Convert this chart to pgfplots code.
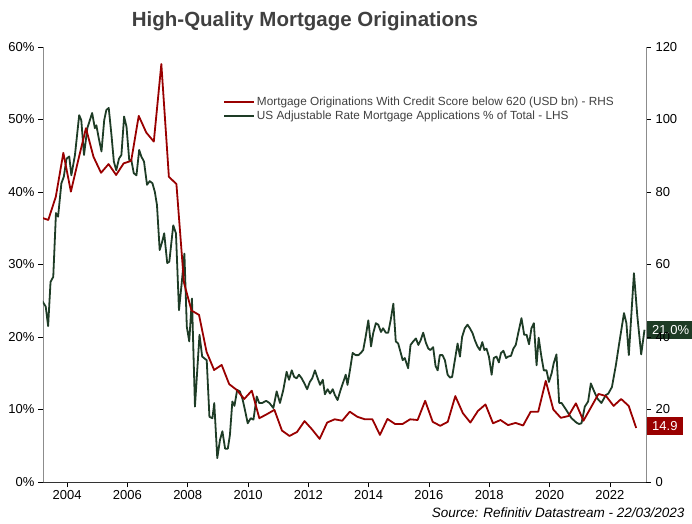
\documentclass[border=0pt]{standalone}
\usepackage{fontspec}
\setmainfont{Liberation Sans}
\usepackage{pgfplots}
\pgfplotsset{compat=1.18}

\definecolor{mred}{RGB}{153,0,0}
\definecolor{mgreen}{RGB}{30,60,38}
\definecolor{txtgray}{RGB}{64,64,64}
\definecolor{spine}{RGB}{140,140,140}

\pgfplotsset{
  base/.style={
    scale only axis, width=603pt, height=435pt,
    xmin=2003.2, xmax=2023.2,
    tick align=outside, major tick length=5pt,
    tick style={color=black, line width=0.6pt},
    axis line style={-, line width=0.9pt},
    tick label style={font=\fontsize{13}{15}\selectfont, text=black},
    /pgf/number format/assume math mode=true,
    /pgf/number format/1000 sep={},
    clip mode=individual,
  },
}

\begin{document}
\begin{tikzpicture}
% LHS: ARM applications share (monthly)
\begin{axis}[base,
    axis y line*=left, axis x line*=bottom,
    x axis line style={black!80},
    y axis line style={spine},
    ymin=0, ymax=60, ytick={0,10,...,60},
    yticklabel={\pgfmathprintnumber{\tick}\%},
    xtick={2004,2006,...,2022},
]
\addplot[mgreen, line width=1.8pt, line join=round] coordinates {
(2003.12,25.2) (2003.20,24.8) (2003.29,24.2) (2003.37,21.5) (2003.45,27.6) (2003.54,28.3)
(2003.63,37.1) (2003.70,36.6) (2003.81,41.2) (2003.89,42.1) (2003.98,44.6) (2004.07,44.9)
(2004.14,42.3) (2004.26,45.1) (2004.40,50.6) (2004.47,49.9) (2004.56,45.1) (2004.67,48.8)
(2004.83,50.9) (2004.92,48.8) (2004.97,49.2) (2005.05,47.4) (2005.14,45.6) (2005.23,49.9)
(2005.30,51.3) (2005.38,51.6) (2005.47,47.9) (2005.55,44.2) (2005.63,43.0) (2005.72,44.6)
(2005.80,45.1) (2005.89,50.4) (2005.97,49.0) (2006.06,44.4) (2006.13,44.4) (2006.21,42.6)
(2006.30,42.3) (2006.39,45.8) (2006.46,44.9) (2006.55,44.2) (2006.65,41.0) (2006.74,41.5)
(2006.83,41.2) (2006.91,40.0) (2006.98,38.2) (2007.07,32.0) (2007.15,33.1) (2007.22,34.3)
(2007.32,30.2) (2007.39,30.4) (2007.52,35.4) (2007.61,34.3) (2007.71,23.7) (2007.80,27.4)
(2007.89,31.5) (2007.97,21.4) (2008.05,19.4) (2008.14,25.3) (2008.24,10.4) (2008.39,20.3)
(2008.48,17.3) (2008.63,16.8) (2008.72,9.0) (2008.82,8.8) (2008.88,10.9) (2008.98,3.3)
(2009.07,5.8) (2009.15,7.0) (2009.24,4.6) (2009.33,4.6) (2009.40,6.5) (2009.48,11.1)
(2009.55,10.5) (2009.64,12.7) (2009.73,12.5) (2009.82,11.4) (2009.90,9.9) (2009.99,8.1)
(2010.09,8.8) (2010.18,8.6) (2010.29,11.8) (2010.37,10.9) (2010.47,10.9) (2010.60,11.2)
(2010.71,10.9) (2010.84,10.2) (2010.95,12.5) (2011.06,10.9) (2011.17,12.7) (2011.28,15.2)
(2011.36,14.1) (2011.45,15.4) (2011.53,14.5) (2011.61,14.3) (2011.69,14.8) (2011.78,14.3)
(2011.87,13.6) (2011.96,12.8) (2012.05,13.8) (2012.13,14.3) (2012.22,15.4) (2012.31,14.3)
(2012.39,13.4) (2012.48,14.1) (2012.55,12.1) (2012.64,12.8) (2012.72,12.2) (2012.81,12.8)
(2012.88,12.0) (2012.97,11.3) (2013.07,12.7) (2013.16,13.8) (2013.24,14.8) (2013.30,13.4)
(2013.38,15.4) (2013.47,17.8) (2013.57,17.5) (2013.66,17.5) (2013.74,17.8) (2013.82,18.2)
(2013.90,20.0) (2013.99,22.3) (2014.08,18.7) (2014.15,20.5) (2014.24,21.9) (2014.32,21.7)
(2014.41,20.7) (2014.48,21.2) (2014.57,20.6) (2014.65,20.6) (2014.73,22.3) (2014.82,24.6)
(2014.90,19.4) (2014.98,19.1) (2015.04,18.2) (2015.13,16.8) (2015.20,17.1) (2015.31,15.7)
(2015.39,18.9) (2015.48,19.4) (2015.57,19.8) (2015.65,18.9) (2015.73,19.6) (2015.81,20.6)
(2015.90,19.2) (2015.98,18.4) (2016.05,18.2) (2016.14,18.6) (2016.22,16.0) (2016.29,15.4)
(2016.36,17.5) (2016.45,17.5) (2016.53,16.8) (2016.62,14.8) (2016.70,14.4) (2016.77,14.5)
(2016.86,16.8) (2016.95,19.1) (2017.03,17.3) (2017.10,20.0) (2017.19,21.2) (2017.28,21.7)
(2017.36,21.2) (2017.45,20.5) (2017.52,19.6) (2017.61,18.7) (2017.69,18.2) (2017.77,19.3)
(2017.84,18.2) (2017.91,18.4) (2017.99,17.3) (2018.08,14.8) (2018.15,17.1) (2018.24,17.3)
(2018.32,16.5) (2018.39,17.8) (2018.47,18.1) (2018.56,17.1) (2018.63,17.3) (2018.72,17.4)
(2018.80,18.4) (2018.88,18.9) (2018.96,20.5) (2019.07,22.6) (2019.16,20.3) (2019.24,20.3)
(2019.32,19.0) (2019.40,21.2) (2019.48,21.9) (2019.57,16.1) (2019.64,19.9) (2019.73,17.3)
(2019.81,15.4) (2019.90,15.4) (2019.98,13.8) (2020.07,15.0) (2020.14,16.4) (2020.23,17.6)
(2020.32,10.9) (2020.40,10.9) (2020.48,10.4) (2020.56,9.9) (2020.65,9.3) (2020.73,8.8)
(2020.89,8.2) (2020.98,8.0) (2021.06,8.1) (2021.17,10.4) (2021.28,11.1) (2021.37,13.6)
(2021.48,12.5) (2021.59,11.5) (2021.72,10.9) (2021.87,12.0) (2021.95,12.2) (2022.07,13.1)
(2022.20,16.1) (2022.31,19.1) (2022.47,23.3) (2022.55,21.9) (2022.63,17.5) (2022.80,28.8)
(2022.91,23.0) (2023.04,17.6) (2023.15,21.0)
};
% title, source and last-value tag
\node[font=\fontsize{20.5}{24}\selectfont\bfseries, text=txtgray]
  at (rel axis cs:0.4345,1.06) {High-Quality Mortgage Originations};
\node[font=\fontsize{13.5}{16}\selectfont\itshape, text=black, anchor=east]
  at (rel axis cs:1.0697,-0.071) {Source: Refinitiv Datastream - 22/03/2023};
\node[fill=mgreen, text=white, anchor=west, font=\fontsize{13}{15}\selectfont,
  inner xsep=5pt, inner ysep=4pt, text height=9.5pt, text depth=0pt, xshift=1pt]
  at (axis cs:2023.2,21.0) {21.0\%};
\end{axis}

% RHS: originations with score below 620 (quarterly)
\begin{axis}[base,
    axis y line*=right, axis x line=none,
    y axis line style={spine},
    ymin=0, ymax=120, ytick={0,20,...,120},
    yticklabel style={anchor=west, xshift=1pt},
    legend style={at={(rel axis cs:0.297,0.893)}, anchor=north west,
      draw=none, fill=none, font=\fontsize{11.8}{14}\selectfont,
      row sep=0pt, inner sep=1pt},
    legend image post style={xscale=1.75},
    legend cell align=left,
]
\addplot[mred, line width=1.8pt, line join=round] coordinates {
(2003.125,73.0) (2003.375,72.3) (2003.625,78.7) (2003.875,90.8)
(2004.125,80.1) (2004.375,89.0) (2004.625,97.6) (2004.875,89.7)
(2005.125,85.3) (2005.375,87.7) (2005.625,84.7) (2005.875,87.9)
(2006.125,88.6) (2006.375,101.0) (2006.625,96.4) (2006.875,93.9)
(2007.125,115.3) (2007.375,84.2) (2007.625,82.2) (2007.875,55.0)
(2008.125,47.3) (2008.375,46.1) (2008.625,35.9) (2008.875,30.9)
(2009.125,32.3) (2009.375,27.0) (2009.625,25.4) (2009.875,22.9)
(2010.125,25.2) (2010.375,17.6) (2010.625,18.7) (2010.875,19.9)
(2011.125,14.2) (2011.375,12.7) (2011.625,13.8) (2011.875,16.8)
(2012.125,14.5) (2012.375,11.9) (2012.625,16.4) (2012.875,17.3)
(2013.125,16.9) (2013.375,19.4) (2013.625,18.0) (2013.875,17.3)
(2014.125,17.3) (2014.375,13.0) (2014.625,17.4) (2014.875,16.0)
(2015.125,16.0) (2015.375,17.3) (2015.625,17.1) (2015.875,22.4)
(2016.125,16.6) (2016.375,15.5) (2016.625,16.6) (2016.875,23.7)
(2017.125,19.0) (2017.375,16.4) (2017.625,19.6) (2017.875,21.4)
(2018.125,16.2) (2018.375,17.1) (2018.625,15.7) (2018.875,16.3)
(2019.125,15.6) (2019.375,19.4) (2019.625,19.4) (2019.875,27.9)
(2020.125,20.0) (2020.375,17.7) (2020.625,18.2) (2020.875,21.7)
(2021.125,16.9) (2021.375,20.6) (2021.625,24.3) (2021.875,23.7)
(2022.125,21.0) (2022.375,22.9) (2022.625,21.0) (2022.875,14.9)
};
\addlegendentry{\textcolor{txtgray}{Mortgage Originations With Credit Score below 620 (USD bn) - RHS}}
\addlegendimage{mgreen, line width=1.8pt}
\addlegendentry{\textcolor{txtgray}{US Adjustable Rate Mortgage Applications \% of Total - LHS}}
\node[fill=mred, text=white, anchor=west, font=\fontsize{13}{15}\selectfont,
  inner xsep=5pt, inner ysep=4pt, text height=9.5pt, text depth=0pt, xshift=1pt]
  at (axis cs:2023.2,15.5) {14.9};
\end{axis}

\pgfresetboundingbox
\path[use as bounding box] (-43pt,-41pt) rectangle (649pt,482pt);
\end{tikzpicture}
\end{document}
